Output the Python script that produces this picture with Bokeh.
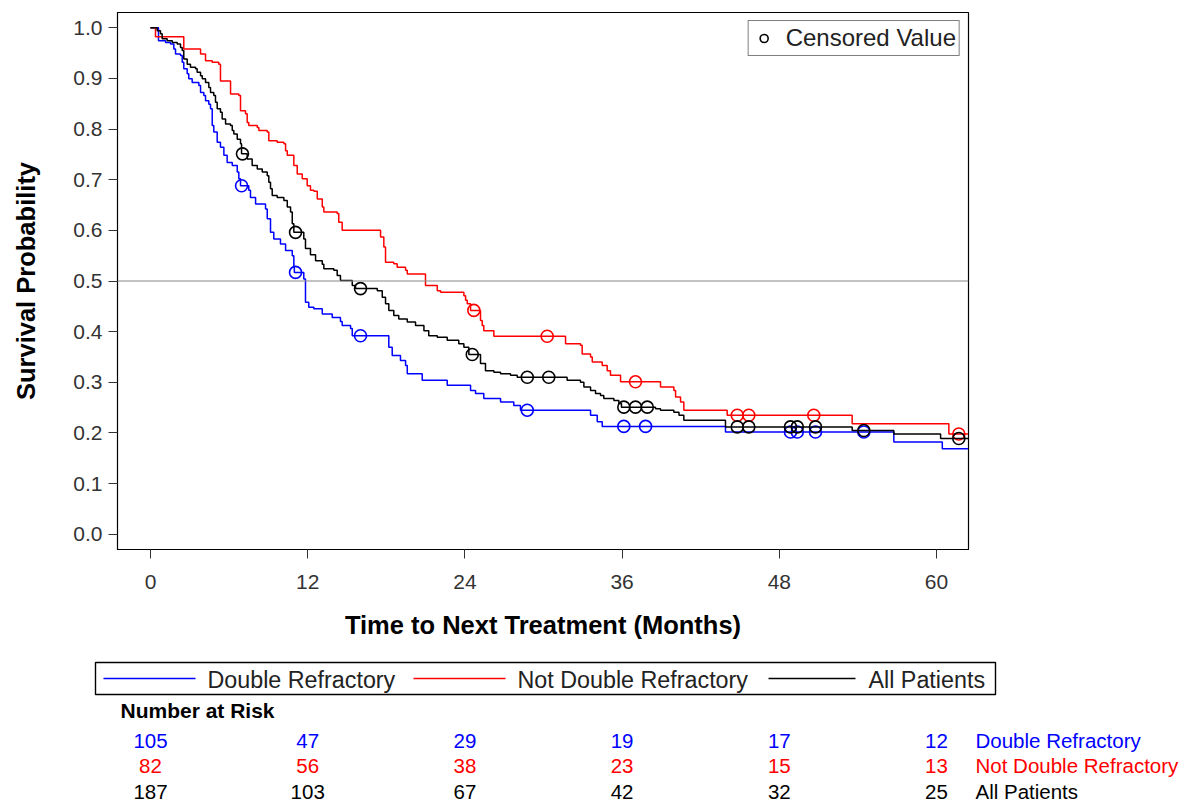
import numpy as np
from bokeh.plotting import figure
from bokeh.models import (Range1d, FixedTicker, Span, Legend, LegendItem,
                          NumeralTickFormatter)
from bokeh.embed import file_html
from bokeh.resources import INLINE
from bokeh.core.properties import value

FONT = "Liberation Sans"

groups = ["Double Refractory", "Not Double Refractory", "All Patients"]
colors = ["#0000FF", "#FF0000", "#000000"]

# Kaplan-Meier step points (time in months, survival after the drop)
dr_t = [0, 0.61, 1.15, 1.53, 1.78, 1.91, 2.29, 2.42, 2.54, 2.80, 2.92, 3.18, 3.69, 3.82,
        4.07, 4.20, 4.45, 4.58, 4.71, 4.83, 5.09, 5.34, 5.60, 5.85, 6.24, 6.62, 6.74,
        6.87, 7.50, 7.63, 8.02, 8.78, 8.91, 9.16, 9.41, 9.92, 10.31, 10.82, 10.94, 10.98,
        11.70, 11.83, 12.08, 12.47, 13.11, 13.87, 14.50, 14.63, 15.27, 15.40, 18.19,
        18.45, 19.08, 19.47, 19.60, 20.74, 22.65, 24.43, 24.81, 25.44, 26.72, 27.73,
        28.24, 33.59, 34.10, 34.48, 43.89, 56.74, 60.44]
dr_s = [1.000, 0.974, 0.971, 0.968, 0.958, 0.948, 0.945, 0.932, 0.919, 0.909, 0.899, 0.892,
        0.886, 0.872, 0.866, 0.856, 0.849, 0.840, 0.807, 0.794, 0.774, 0.764, 0.748, 0.734,
        0.728, 0.715, 0.702, 0.688, 0.679, 0.665, 0.652, 0.642, 0.623, 0.596, 0.583, 0.573,
        0.560, 0.550, 0.527, 0.517, 0.504, 0.458, 0.448, 0.445, 0.435, 0.428, 0.420, 0.412,
        0.406, 0.392, 0.369, 0.353, 0.343, 0.333, 0.317, 0.304, 0.294, 0.284, 0.278, 0.268,
        0.261, 0.254, 0.245, 0.235, 0.222, 0.213, 0.202, 0.182, 0.169]
dr_cens = [6.95, 11.07, 16.03, 28.76, 36.13, 37.79, 48.85, 49.37, 50.76, 54.45]

ndr_t = [0, 0.38, 2.54, 3.82, 4.20, 4.71, 5.21, 5.34, 6.11, 6.74, 6.87, 7.25, 7.38, 7.50,
         8.15, 8.27, 8.91, 9.03, 9.67, 10.18, 10.31, 10.44, 10.94, 11.20, 11.58, 11.96,
         12.21, 12.47, 12.73, 13.11, 13.23, 14.25, 14.37, 14.63, 17.56, 17.81, 17.94,
         18.57, 18.83, 19.47, 19.60, 20.99, 21.89, 22.14, 23.92, 24.05, 24.18, 24.43,
         25.19, 25.32, 25.44, 26.21, 31.68, 32.82, 32.95, 33.59, 33.72, 34.48, 34.86,
         35.11, 35.88, 38.93, 39.95, 40.08, 40.46, 40.71, 44.02, 53.56, 60.94]
ndr_s = [1.000, 0.982, 0.958, 0.948, 0.935, 0.932, 0.928, 0.895, 0.869, 0.866, 0.836,
         0.830, 0.813, 0.807, 0.803, 0.797, 0.794, 0.777, 0.774, 0.771, 0.757, 0.748,
         0.728, 0.711, 0.702, 0.688, 0.679, 0.677, 0.662, 0.646, 0.636, 0.633, 0.616,
         0.600, 0.587, 0.567, 0.537, 0.534, 0.527, 0.521, 0.514, 0.491, 0.481, 0.478,
         0.471, 0.462, 0.455, 0.442, 0.422, 0.412, 0.402, 0.391, 0.376, 0.373, 0.356,
         0.350, 0.340, 0.333, 0.323, 0.314, 0.301, 0.291, 0.284, 0.271, 0.261, 0.245,
         0.235, 0.218, 0.198]
ndr_cens = [24.68, 30.28, 37.02, 44.79, 45.67, 50.63, 61.70]

all_t = [0, 0.51, 0.76, 0.89, 1.27, 1.66, 2.04, 2.29, 2.42, 2.54, 2.80, 3.05, 3.44, 3.56,
         3.82, 3.95, 4.20, 4.45, 4.58, 4.83, 4.96, 5.09, 5.34, 5.47, 5.73, 6.11, 6.24,
         6.36, 6.62, 6.87, 6.95, 7.38, 7.76, 8.15, 8.53, 8.91, 9.03, 9.16, 9.29, 9.67,
         10.18, 10.44, 10.69, 10.82, 10.94, 11.70, 11.83, 12.21, 12.60, 13.11, 13.23,
         13.99, 14.25, 14.50, 15.40, 15.65, 17.31, 17.69, 17.94, 18.19, 18.57, 18.95,
         19.60, 20.23, 20.87, 21.24, 21.89, 22.65, 23.53, 23.92, 24.30, 25.19, 25.57,
         26.21, 26.72, 27.48, 27.99, 31.80, 32.82, 33.08, 33.59, 33.97, 34.35, 34.60,
         35.37, 35.75, 35.95, 38.55, 38.93, 39.95, 40.34, 40.71, 43.89, 53.56, 56.74, 60.31]
all_s = [1.000, 0.994, 0.988, 0.978, 0.974, 0.971, 0.968, 0.961, 0.955, 0.938, 0.928,
         0.922, 0.919, 0.912, 0.905, 0.899, 0.892, 0.882, 0.872, 0.866, 0.853, 0.840,
         0.833, 0.820, 0.810, 0.807, 0.797, 0.790, 0.780, 0.771, 0.751, 0.741, 0.728,
         0.721, 0.715, 0.708, 0.695, 0.682, 0.669, 0.665, 0.659, 0.646, 0.636, 0.613,
         0.596, 0.583, 0.564, 0.552, 0.540, 0.533, 0.524, 0.521, 0.511, 0.501, 0.491,
         0.485, 0.481, 0.468, 0.455, 0.442, 0.432, 0.425, 0.419, 0.412, 0.402, 0.392,
         0.389, 0.383, 0.376, 0.369, 0.355, 0.337, 0.323, 0.320, 0.317, 0.314, 0.310,
         0.304, 0.300, 0.291, 0.284, 0.278, 0.274, 0.268, 0.264, 0.258, 0.251, 0.248,
         0.245, 0.241, 0.235, 0.225, 0.212, 0.205, 0.198, 0.189]
all_cens = [7.02, 11.07, 16.03, 24.56, 28.76, 30.40, 36.13, 37.02, 37.92, 44.79, 45.67,
            48.85, 49.37, 50.76, 54.45, 61.70]

t_end = 62.4

risk_times = [0, 12, 24, 36, 48, 60]
risk_dr = [105, 47, 29, 19, 17, 12]
risk_ndr = [82, 56, 38, 23, 15, 13]
risk_all = [187, 103, 67, 42, 32, 25]

x_ticks = [0, 12, 24, 36, 48, 60]
y_ticks = [0.0, 0.1, 0.2, 0.3, 0.4, 0.5, 0.6, 0.7, 0.8, 0.9, 1.0]

series = [(dr_t, dr_s, dr_cens), (ndr_t, ndr_s, ndr_cens), (all_t, all_s, all_cens)]
risk = [risk_dr, risk_ndr, risk_all]

# ---------------- main plot ----------------
p = figure(width=1186, height=650, output_backend="svg", toolbar_location=None,
           x_range=Range1d(-2.52, 62.44), y_range=Range1d(-0.03, 1.03),
           min_border_left=117, min_border_right=218, min_border_top=12,
           min_border_bottom=101)
p.background_fill_color = "white"
p.border_fill_color = "white"
p.outline_line_color = "black"
p.outline_line_width = 1.2
p.xgrid.visible = False
p.ygrid.visible = False

for ax in (p.xaxis[0], p.yaxis[0]):
    ax.axis_line_color = "black"
    ax.major_tick_line_color = "#333333"
    ax.major_tick_out = 9
    ax.major_tick_in = 0
    ax.minor_tick_line_color = None
    ax.major_label_text_font = FONT
    ax.major_label_text_font_size = "21px"
    ax.major_label_text_color = "#333333"
    ax.axis_label_text_font = FONT
    ax.axis_label_text_font_style = "bold"
    ax.axis_label_text_font_size = "25.5px"
    ax.axis_label_text_color = "black"

p.xaxis.ticker = FixedTicker(ticks=x_ticks)
p.yaxis.ticker = FixedTicker(ticks=y_ticks)
p.yaxis.formatter = NumeralTickFormatter(format="0.0")
p.xaxis.axis_label = "Time to Next Treatment (Months)"
p.yaxis.axis_label = "Survival Probability"
p.xaxis.major_label_standoff = 16
p.yaxis.major_label_standoff = 6
p.xaxis.axis_label_standoff = 19
p.yaxis.axis_label_standoff = 30

p.add_layout(Span(location=0.5, dimension="width", line_color="#888888", line_width=1.2))

cens_renderers = []
for (t, s, c), col in zip(series, colors):
    xs = list(t) + [t_end]
    ys = list(s) + [s[-1]]
    p.step(xs, ys, mode="after", line_color=col, line_width=1.5)
    ta = np.array(t)
    sa = np.array(s)
    idx = np.searchsorted(ta, np.array(c), side="right") - 1
    r = p.scatter(c, sa[idx], marker="circle", size=12, fill_color=None,
                  line_color=col, line_width=1.6)
    cens_renderers.append(r)

leg = Legend(items=[LegendItem(label="Censored Value", renderers=[cens_renderers[2]])],
             location="top_right")
leg.border_line_color = "black"
leg.border_line_width = 1.2
leg.label_text_font = FONT
leg.label_text_font_size = "24px"
leg.label_text_color = "#222222"
leg.padding = 3
leg.margin = 8
leg.glyph_width = 24
leg.glyph_height = 20
leg.label_standoff = 10
leg.background_fill_alpha = 1
p.add_layout(leg)

# ---------------- legend + number at risk ----------------
PX0 = 150.0
PXM = 13.1


def px2t(px):
    return (px - PX0) / PXM


q = figure(width=1186, height=152, output_backend="svg", toolbar_location=None,
           x_range=Range1d(px2t(0), px2t(1186)), y_range=Range1d(152, 0),
           x_axis_type=None, y_axis_type=None, min_border=0)
q.outline_line_color = None
q.xgrid.visible = False
q.ygrid.visible = False
q.background_fill_color = "white"
q.border_fill_color = "white"

# line legend box
q.quad(left=[px2t(95)], right=[px2t(995)], top=[12], bottom=[44],
       fill_color=None, line_color="black", line_width=1.4)
leg_x0 = [px2t(103), px2t(413), px2t(768)]
leg_x1 = [px2t(195), px2t(505), px2t(855)]
leg_tx = [px2t(207), px2t(517), px2t(868)]
q.segment(x0=leg_x0, y0=[28] * 3, x1=leg_x1, y1=[28] * 3, line_color=colors, line_width=1.5)
q.text(x=leg_tx, y=[29] * 3, text=groups, text_font=value(FONT), text_font_size="23.3px",
       text_color="#222222", text_baseline="middle", text_align="left")

q.text(x=[px2t(120)], y=[60], text=["Number at Risk"], text_font=value(FONT),
       text_font_style="bold", text_font_size="21px", text_color="black",
       text_baseline="middle", text_align="left")

row_y = [90, 115, 141]
for vals, col, g, yy in zip(risk, colors, groups, row_y):
    q.text(x=risk_times, y=[yy] * len(risk_times), text=[str(v) for v in vals],
           text_font=value(FONT), text_font_size="20.5px", text_color=col,
           text_baseline="middle", text_align="center")
    q.text(x=[px2t(975)], y=[yy], text=[g], text_font=value(FONT), text_font_size="20.5px",
           text_color=col, text_baseline="middle", text_align="left")

open("out.html", "w").write(file_html([p, q], INLINE))
